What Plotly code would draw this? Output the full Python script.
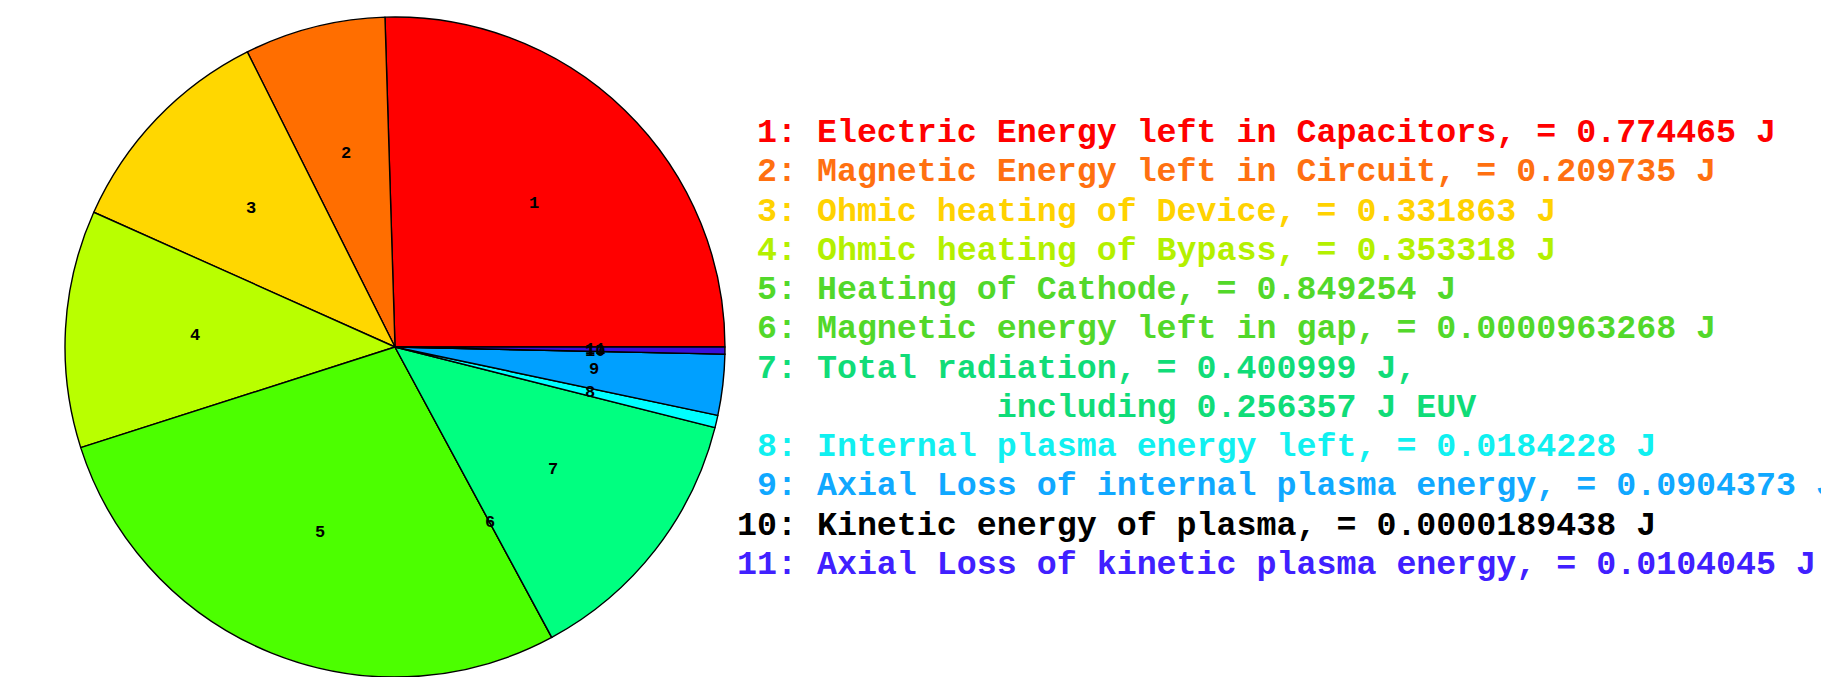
import math
import plotly.graph_objects as go

# Energy balance components (J)
ids = ["1", "2", "3", "4", "5", "6", "7", "8", "9", "10", "11"]
names = [
    "Electric Energy left in Capacitors",
    "Magnetic Energy left in Circuit",
    "Ohmic heating of Device",
    "Ohmic heating of Bypass",
    "Heating of Cathode",
    "Magnetic energy left in gap",
    "Total radiation",
    "Internal plasma energy left",
    "Axial Loss of internal plasma energy",
    "Kinetic energy of plasma",
    "Axial Loss of kinetic plasma energy",
]
values = [0.774465, 0.209735, 0.331863, 0.353318, 0.849254, 0.0000963268,
          0.400999, 0.0184228, 0.0904373, 0.0000189438, 0.0104045]
value_text = ["0.774465", "0.209735", "0.331863", "0.353318", "0.849254",
              "0.0000963268", "0.400999", "0.0184228", "0.0904373",
              "0.0000189438", "0.0104045"]
euv_text = "0.256357"

slice_colors = ["#FF0000", "#FF6E00", "#FFD700", "#B9FF00", "#4CFF00",
                "#1EFF3C", "#00FF80", "#00FFFF", "#00A0FF", "#0050FF", "#3A10D8"]
text_colors = ["#FF0000", "#FF7010", "#FFD200", "#B4F000", "#52D82A",
               "#52D82A", "#10DC78", "#10F0F0", "#10A8FF", "#000000", "#4020FF"]

W, H = 1821, 677
# pie placement (pixels)
cx, cy_top, R = 395, 347, 330
dom_x = [(cx - R) / W, (cx + R) / W]
dom_y = [max(0.0, (H - cy_top - R) / H), min(1.0, (H - cy_top + R) / H)]

total = sum(values)
first_angle = 360.0 * values[0] / total

MONO = "Courier New, Liberation Mono, monospace"

fig = go.Figure()
fig.add_trace(go.Pie(
    labels=ids,
    values=values,
    sort=False,
    direction="counterclockwise",
    rotation=90 - first_angle,
    marker=dict(colors=slice_colors, line=dict(color="#000000", width=1.4)),
    textinfo="none",
    hoverinfo="label+value",
    showlegend=False,
    domain=dict(x=dom_x, y=dom_y),
))

annotations = []

# slice numbers at 0.6 R along each slice's mid-angle (counterclockwise from 3 o'clock)
cum = 0.0
for lab, v in zip(ids, values):
    mid = 2 * math.pi * (cum + v / 2) / total
    cum += v
    px = cx + 0.606 * R * math.cos(mid)
    py = (H - cy_top) + 0.606 * R * math.sin(mid)
    annotations.append(dict(
        x=px / W, y=py / H, xref="paper", yref="paper",
        text=lab, showarrow=False, xanchor="center", yanchor="middle",
        font=dict(family=MONO, size=17, color="#000000", weight="bold"),
    ))

# legend text block
NB = "\u00a0"
lines = []
for i, (lab, nm, vt) in enumerate(zip(ids, names, value_text)):
    pad = NB if len(lab) == 1 else ""
    if lab == "7":
        lines.append((pad + f"{lab}: {nm}, = {vt} J,".replace(" ", NB), text_colors[i]))
        lines.append((NB * 13 + f"including {euv_text} J EUV".replace(" ", NB), text_colors[i]))
    else:
        lines.append((pad + f"{lab}: {nm}, = {vt} J".replace(" ", NB), text_colors[i]))

row0, row_step = 133, 39.27
for k, (txt, col) in enumerate(lines):
    yc = row0 + row_step * k
    annotations.append(dict(
        x=735 / W, y=1 - yc / H, xref="paper", yref="paper",
        text=txt, showarrow=False, xanchor="left", yanchor="middle",
        font=dict(family=MONO, size=33.3, color=col, weight="bold"),
    ))

fig.update_layout(
    width=W, height=H,
    margin=dict(l=0, r=0, t=0, b=0),
    paper_bgcolor="#FFFFFF",
    plot_bgcolor="#FFFFFF",
    annotations=annotations,
)

fig.write_html("out.html")
